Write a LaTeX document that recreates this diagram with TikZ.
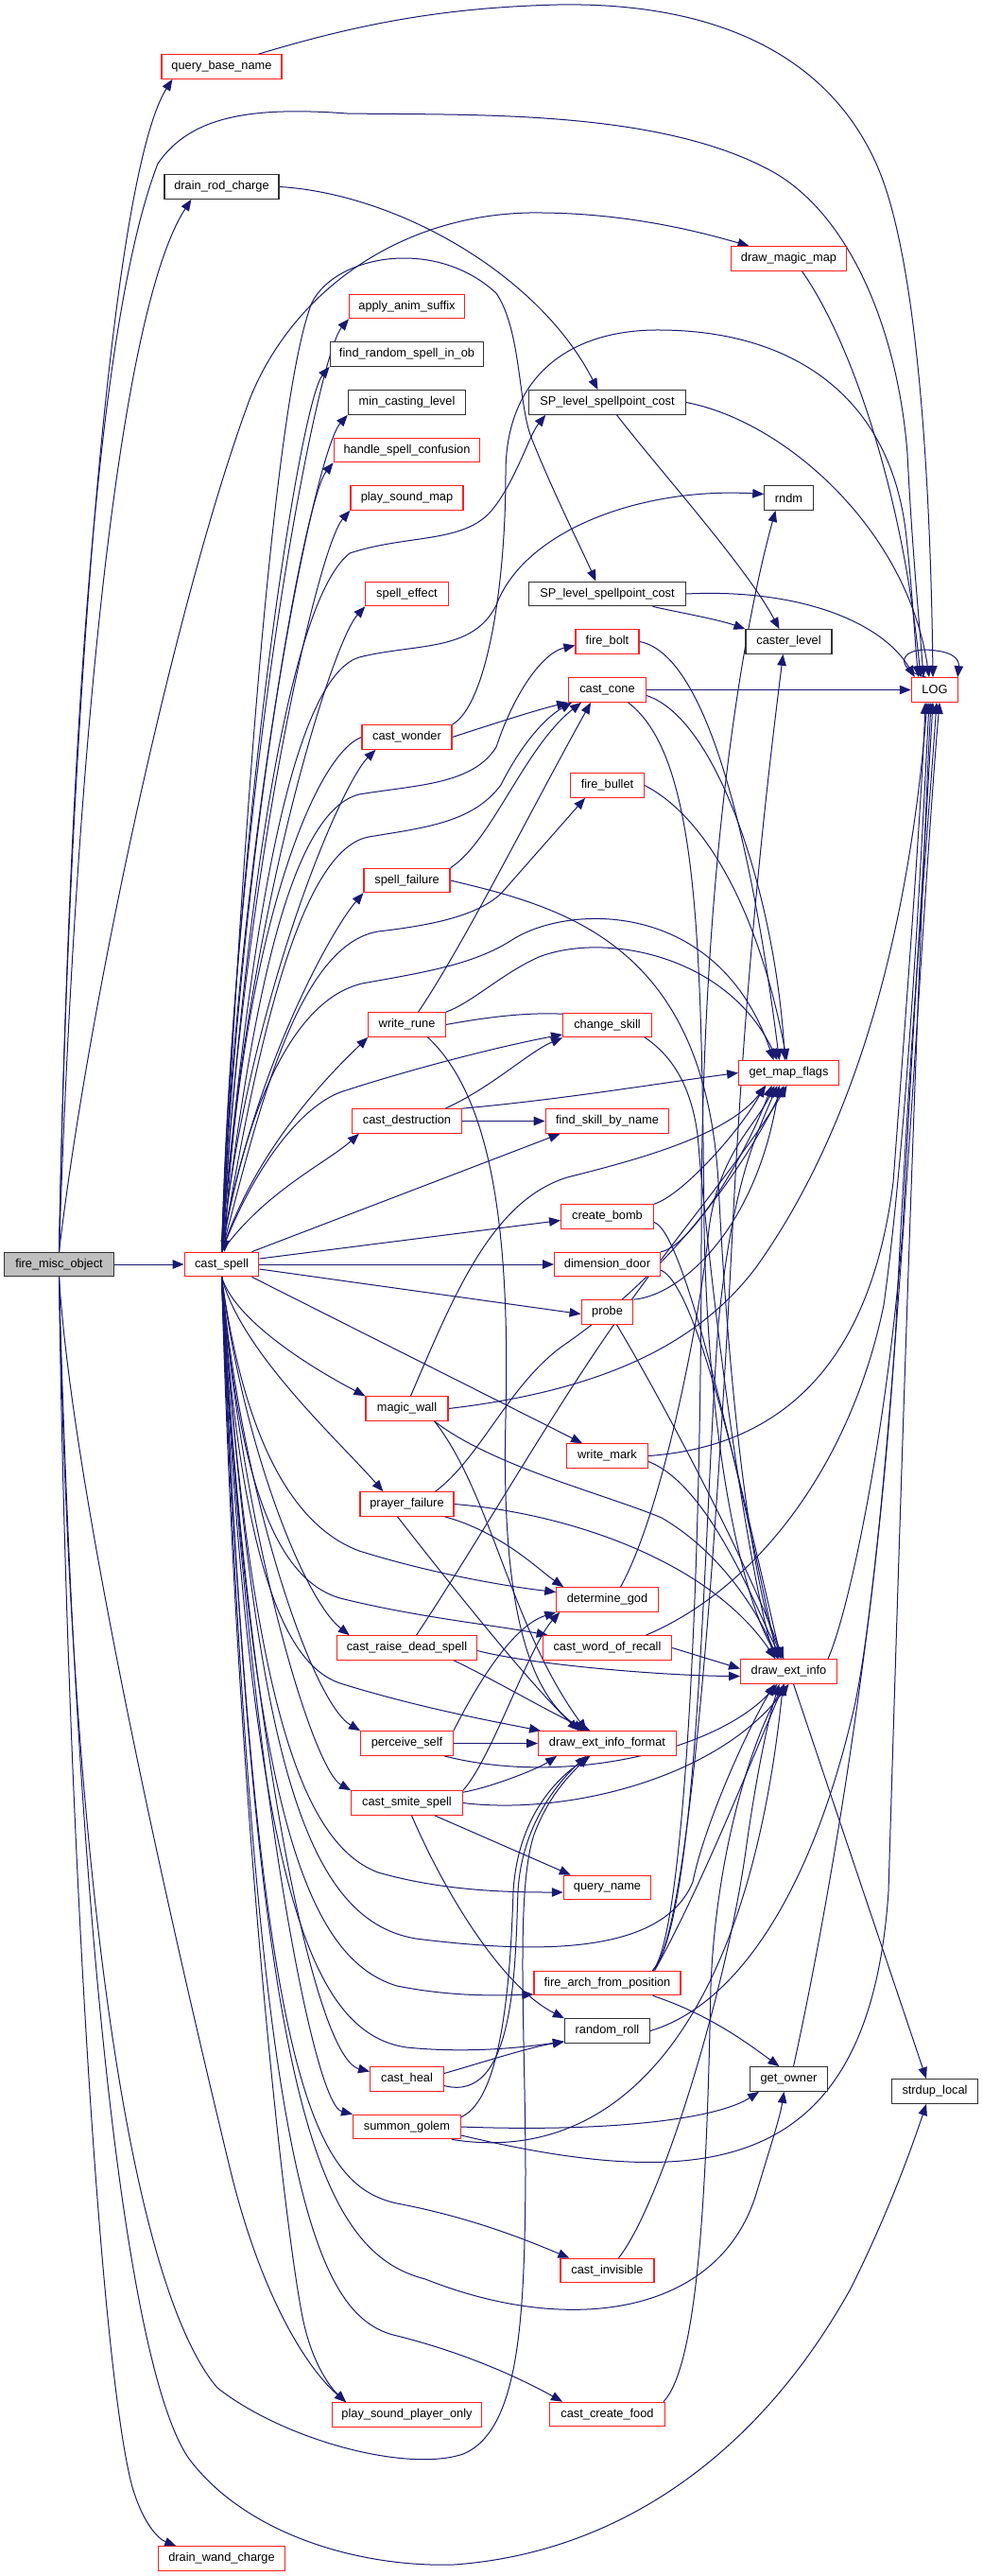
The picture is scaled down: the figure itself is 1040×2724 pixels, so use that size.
\documentclass[tikz,border=0pt]{standalone}
\usepackage{fontspec}
\setmainfont{Liberation Sans}
\usetikzlibrary{arrows.meta}
\definecolor{edgec}{RGB}{25,25,112}
\definecolor{nred}{RGB}{255,30,30}
\definecolor{nblk}{RGB}{50,50,50}
\definecolor{ngray}{RGB}{191,191,191}
\pgfdeclarelayer{bg}
\pgfsetlayers{bg,main}
\begin{document}
\begin{tikzpicture}[x=1pt,y=-1pt,
  box/.style={draw, line width=1.2pt, minimum height=25.5pt, inner sep=0pt, font=\fontsize{12.8}{14}\selectfont, fill=white},
  rn/.style={box, draw=nred},
  bn/.style={box, draw=nblk},
  gn/.style={box, draw=nblk, fill=ngray},
  e/.style={draw=edgec, line width=1pt, -{Triangle[length=12pt,width=9.5pt]}},
]
\useasboundingbox (0,0) rectangle (1040,2724);
% ---------- nodes ----------
\node[gn, minimum width=115.3pt] (F) at (62.5,1337) {fire\_misc\_object};
\node[rn, minimum width=78.7pt] (CS) at (234.5,1337) {cast\_spell};
\node[rn, minimum width=127pt] (qbn) at (234.5,70.5) {query\_base\_name};
\node[bn, minimum width=121pt] (drc) at (234.5,197.5) {drain\_rod\_charge};
\node[rn, minimum width=133.3pt] (dwc) at (234.5,2705.5) {drain\_wand\_charge};
\node[rn, minimum width=121.7pt] (aas) at (430.5,324) {apply\_anim\_suffix};
\node[bn, minimum width=162.7pt] (frs) at (430.5,374.5) {find\_random\_spell\_in\_ob};
\node[bn, minimum width=124.3pt] (mcl) at (430.5,425.5) {min\_casting\_level};
\node[rn, minimum width=154.7pt] (hsc) at (430.5,476) {handle\_spell\_confusion};
\node[rn, minimum width=119pt] (psm) at (430.5,526.5) {play\_sound\_map};
\node[rn, minimum width=87.3pt] (se) at (430.5,628) {spell\_effect};
\node[rn, minimum width=95pt] (cw) at (430.5,779.5) {cast\_wonder};
\node[rn, minimum width=91pt] (sf) at (430.5,931) {spell\_failure};
\node[rn, minimum width=81.3pt] (wr) at (430.5,1083.5) {write\_rune};
\node[rn, minimum width=116pt] (cd) at (430.5,1185.5) {cast\_destruction};
\node[rn, minimum width=87pt] (mw) at (430.5,1489.5) {magic\_wall};
\node[rn, minimum width=99pt] (pf) at (430.5,1590.5) {prayer\_failure};
\node[rn, minimum width=148.3pt] (crds) at (430.5,1742.5) {cast\_raise\_dead\_spell};
\node[rn, minimum width=97.7pt] (ps) at (430.5,1843.5) {perceive\_self};
\node[rn, minimum width=117.7pt] (css) at (430.5,1906.5) {cast\_smite\_spell};
\node[rn, minimum width=77.7pt] (ch) at (430.5,2198.5) {cast\_heal};
\node[rn, minimum width=113.7pt] (sg) at (430.5,2249) {summon\_golem};
\node[rn, minimum width=157.7pt] (psp) at (430.5,2553.5) {play\_sound\_player\_only};
\node[bn, minimum width=165.3pt] (SPa) at (642.5,425.5) {SP\_level\_spellpoint\_cost};
\node[bn, minimum width=165.3pt] (SPb) at (642.5,628) {SP\_level\_spellpoint\_cost};
\node[rn, minimum width=67pt] (fb) at (642.5,678.5) {fire\_bolt};
\node[rn, minimum width=81.7pt] (cc) at (642.5,729.5) {cast\_cone};
\node[rn, minimum width=77.7pt] (fbu) at (642.5,830.5) {fire\_bullet};
\node[rn, minimum width=93.7pt] (csk) at (642.5,1084) {change\_skill};
\node[rn, minimum width=130.7pt] (fsbn) at (642.5,1185.5) {find\_skill\_by\_name};
\node[rn, minimum width=97.7pt] (cb) at (642.5,1286.5) {create\_bomb};
\node[rn, minimum width=111.7pt] (dd) at (642.5,1337) {dimension\_door};
\node[rn, minimum width=54.7pt] (pr) at (642.5,1387.5) {probe};
\node[rn, minimum width=85.7pt] (wm) at (642.5,1539.5) {write\_mark};
\node[rn, minimum width=107.3pt] (dg) at (642.5,1691.5) {determine\_god};
\node[rn, minimum width=136.3pt] (cwr) at (642.5,1742.5) {cast\_word\_of\_recall};
\node[rn, minimum width=145.7pt] (dxf) at (642.5,1843.5) {draw\_ext\_info\_format};
\node[rn, minimum width=92.3pt] (qn) at (642.5,1996) {query\_name};
\node[rn, minimum width=155pt] (fafp) at (642.5,2097) {fire\_arch\_from\_position};
\node[bn, minimum width=90pt] (rr) at (642.5,2147.5) {random\_roll};
\node[rn, minimum width=99pt] (ci) at (642.5,2401) {cast\_invisible};
\node[rn, minimum width=121.7pt] (ccf) at (642.5,2553) {cast\_create\_food};
\node[rn, minimum width=122.7pt] (dmm) at (834.5,273.5) {draw\_magic\_map};
\node[bn, minimum width=51.3pt] (rndm) at (834.5,526.5) {rndm};
\node[bn, minimum width=91pt] (cl) at (834.5,678.5) {caster\_level};
\node[rn, minimum width=105.7pt] (gmf) at (834.5,1134.5) {get\_map\_flags};
\node[rn, minimum width=101.7pt] (dei) at (834.5,1767.5) {draw\_ext\_info};
\node[bn, minimum width=81.7pt] (go) at (834.5,2198.5) {get\_owner};
\node[rn, minimum width=49.3pt] (LOG) at (989,729.5) {LOG};
\node[bn, minimum width=91.3pt] (sdl) at (989,2211.5) {strdup\_local};
% ---------- edges ----------
\begin{pgfonlayer}{bg}
\fill[white] (0,0) rectangle (1040,2724);
% fire_misc_object
\draw[e] (F) -- (CS);
\draw[e] (F.north) .. controls (72,800) and (115,190) .. ([xshift=12pt]qbn.south west);
\draw[e] (F.north) .. controls (80,800) and (125,330) .. ([xshift=29pt]drc.south west);
\draw[e] (F.north) .. controls (75,700) and (110,320) .. (167,173) .. controls (200,125) and (260,112) .. (367,120) .. controls (500,122) and (700,115) .. (820,183) .. controls (900,230) and (950,350) .. (960,480) .. controls (965,580) and (972,650) .. ([xshift=-12pt]LOG.north);
\draw[e] (F.north) .. controls (95,1050) and (190,620) .. (265,420) .. controls (310,310) and (420,228) .. (560,225) .. controls (660,224) and (740,245) .. ([xshift=20pt]dmm.north west);
\draw[e] (F.south) .. controls (75,1550) and (160,1950) .. (245,2300) .. controls (275,2420) and (320,2500) .. ([xshift=15pt]psp.north west);
\draw[e] (F.south) .. controls (70,1900) and (105,2500) .. (140,2630) .. controls (152,2670) and (168,2685) .. ([xshift=19pt]dwc.north west);
\draw[e] (F.south) .. controls (80,2000) and (130,2500) .. (200,2600) .. controls (260,2680) and (380,2715) .. (480,2712) .. controls (650,2700) and (800,2600) .. (900,2420) .. controls (940,2340) and (965,2270) .. ([xshift=-9pt]sdl.south);
\draw[e] (F.south) .. controls (75,2000) and (140,2420) .. (230,2525) .. controls (300,2580) and (430,2615) .. (490,2595) .. controls (550,2570) and (555,2450) .. (556,2300) .. controls (556,2150) and (545,2000) .. (565,1940) .. controls (580,1900) and (600,1880) .. ([xshift=-20pt]dxf.south);
% upper right
\draw[e] ([xshift=-25pt]qbn.north east) .. controls (380,25) and (470,8) .. (590,5) .. controls (760,2) and (880,60) .. (930,180) .. controls (975,290) and (985,550) .. ([xshift=-2pt]LOG.north);
\draw[e] (drc.east) .. controls (420,205) and (570,290) .. ([xshift=-10pt]SPa.north);
\draw[e] ([xshift=14pt]dmm.south) .. controls (900,360) and (955,520) .. ([xshift=-15pt]LOG.north);
\draw[e] ([xshift=10pt]SPa.south) .. controls (700,500) and (790,600) .. ([xshift=-10pt]cl.north);
\draw[e] (SPa.east) .. controls (830,445) and (960,560) .. ([xshift=-6pt]LOG.north);
\draw[e] ([xshift=48pt]SPb.south) .. controls (720,648) and (760,655) .. (cl.north west);
\draw[e] (SPb.east) .. controls (850,622) and (935,660) .. ([xshift=4pt]LOG.north west);
\draw[e] ([xshift=-9pt]LOG.north) .. controls (945,708) and (950,682) .. (990,688) .. controls (1008,690) and (1015,697) .. ([xshift=-1pt]LOG.north east);
% cast_wonder
\draw[e] (cw.west) .. controls (330,800) and (255,1000) .. ([xshift=3pt]CS.north);
\draw[e] (cw.north east) .. controls (515,745) and (535,620) .. (535,500) .. controls (535,400) and (600,350) .. (693,349) .. controls (840,348) and (940,420) .. (958,560) .. controls (965,620) and (968,680) .. ([xshift=8pt]LOG.north west);
\draw[e] (cw.east) .. controls (520,766) and (570,750) .. (cc.south west);
% fire_bolt, cast_cone, fire_bullet
\draw[e] (fb.east) .. controls (740,690) and (790,850) .. ([xshift=-10pt]gmf.north);
\draw[e] (cc.east) -- (LOG.west);
\draw[e] ([yshift=-6pt]cc.east) .. controls (760,760) and (820,950) .. ([xshift=-4pt]gmf.north);
\draw[e] ([xshift=22pt]cc.south) .. controls (740,800) and (742,1000) .. (745,1300) .. controls (750,1550) and (790,1700) .. ([xshift=-10pt]dei.north);
\draw[e] (fbu.east) .. controls (740,860) and (800,950) .. ([xshift=-2pt]gmf.north);
% spell_failure, write_rune
\draw[e] (sf.north east) .. controls (520,890) and (555,790) .. ([xshift=14pt]cc.south west);
\draw[e] (sf.east) .. controls (600,960) and (745,1000) .. (760,1250) .. controls (772,1500) and (800,1700) .. ([xshift=-5pt]dei.north);
\draw[e] ([xshift=12pt]wr.north) .. controls (490,1000) and (560,860) .. ([xshift=24pt]cc.south west);
\draw[e] (wr.north east) .. controls (500,1060) and (530,1030) .. (570,1012) .. controls (640,985) and (770,1010) .. ([xshift=-12pt]gmf.north);
\draw[e] (wr.east) .. controls (600,1060) and (720,1060) .. (738,1200) .. controls (755,1400) and (790,1650) .. ([xshift=-15pt]dei.north);
\draw[e] ([xshift=22pt]wr.south) .. controls (520,1160) and (540,1300) .. (535,1500) .. controls (530,1700) and (560,1790) .. ([xshift=-25pt]dxf.north);
% cast_destruction
\draw[e] ([xshift=-18pt]cd.north east) .. controls (520,1150) and (560,1112) .. (csk.south west);
\draw[e] (cd.north east) .. controls (600,1162) and (700,1145) .. (gmf.west);
\draw[e] (cd.east) -- (fsbn.west);
% create_bomb, dimension_door, probe
\draw[e] (cb.north east) .. controls (720,1265) and (780,1200) .. ([xshift=-25pt]gmf.south);
\draw[e] ([yshift=-6pt]cb.east) .. controls (720,1300) and (770,1500) .. ([xshift=-12pt]dei.north);
\draw[e] (dd.north east) .. controls (730,1320) and (790,1220) .. ([xshift=-18pt]gmf.south);
\draw[e] ([yshift=-6pt]dd.east) .. controls (740,1360) and (790,1600) .. ([xshift=-8pt]dei.north);
\draw[e] (pr.north east) .. controls (720,1370) and (800,1300) .. ([xshift=-10pt]gmf.south);
\draw[e] ([xshift=10pt]pr.south) .. controls (700,1480) and (790,1650) .. ([xshift=-6pt]dei.north);
% magic_wall
\draw[e] ([xshift=4pt]mw.north) .. controls (480,1370) and (520,1270) .. (600,1245) .. controls (680,1225) and (770,1200) .. ([xshift=-24pt]gmf.south);
\draw[e] (mw.east) .. controls (640,1470) and (740,1420) .. (800,1340) .. controls (900,1200) and (960,1000) .. ([xshift=-8pt]LOG.south);
\draw[e] ([xshift=-15pt]mw.south east) .. controls (520,1550) and (640,1580) .. (700,1605) .. controls (760,1640) and (800,1700) .. ([xshift=-12pt]dei.north);
\draw[e] ([xshift=-15pt]mw.south east) .. controls (520,1580) and (540,1720) .. ([xshift=-22pt]dxf.north);
% write_mark
\draw[e] (wm.east) .. controls (820,1530) and (920,1450) .. (945,1250) .. controls (960,1050) and (975,850) .. ([xshift=-10pt]LOG.south);
\draw[e] ([yshift=-6pt]wm.east) .. controls (750,1570) and (800,1700) .. ([xshift=-8pt]dei.north);
% prayer_failure
\draw[e] ([xshift=-20pt]pf.north east) .. controls (510,1540) and (540,1460) .. (600,1420) .. controls (700,1350) and (780,1250) .. ([xshift=-5pt]gmf.south);
\draw[e] (pf.east) .. controls (600,1600) and (750,1650) .. ([xshift=-14pt]dei.north);
\draw[e] ([xshift=-10pt]pf.south east) .. controls (530,1620) and (570,1660) .. ([xshift=8pt]dg.north west);
\draw[e] ([xshift=-10pt]pf.south) .. controls (480,1680) and (560,1780) .. ([xshift=-30pt]dxf.north);
% cast_raise_dead_spell
\draw[e] ([xshift=10pt]crds.north) .. controls (500,1640) and (580,1500) .. (650,1400) .. controls (720,1300) and (790,1220) .. ([xshift=-2pt]gmf.south);
\draw[e] ([yshift=-3pt]crds.east) .. controls (560,1760) and (700,1772) .. ([yshift=-5pt]dei.west);
\draw[e] ([xshift=-25pt]crds.south east) .. controls (530,1780) and (580,1810) .. ([xshift=-18pt]dxf.north);
% determine_god, cast_word_of_recall
\draw[e] ([xshift=14pt]dg.north) .. controls (700,1600) and (740,1400) .. (750,1300) .. controls (760,1220) and (800,1190) .. ([xshift=-15pt]gmf.south);
\draw[e] ([xshift=-28pt]cwr.north east) .. controls (800,1680) and (900,1550) .. (935,1380) .. controls (960,1200) and (975,900) .. ([xshift=-6pt]LOG.south);
\draw[e] (cwr.east) -- ([yshift=3pt]dei.west);
% perceive_self
\draw[e] (ps.east) -- (dxf.west);
\draw[e] (ps.north east) .. controls (500,1790) and (540,1720) .. (dg.south west);
\draw[e] ([xshift=-10pt]ps.south east) .. controls (600,1890) and (760,1850) .. ([xshift=-12pt]dei.south);
% cast_smite_spell
\draw[e] (css.north east) .. controls (520,1860) and (560,1740) .. ([xshift=4pt]dg.south west);
\draw[e] ([yshift=-2pt]css.north east) .. controls (520,1890) and (570,1870) .. ([xshift=20pt]dxf.south west);
\draw[e] (css.east) .. controls (600,1920) and (760,1880) .. (dei.south);
\draw[e] ([xshift=-30pt]css.south east) -- ([xshift=8pt]qn.north west);
\draw[e] ([xshift=5pt]css.south) .. controls (470,2000) and (530,2100) .. (rr.north west);
% cast_heal, summon_golem
\draw[e] ([yshift=6pt]ch.east) .. controls (520,2178) and (560,2165) .. ([yshift=2pt]rr.south west);
\draw[e] ([yshift=-7pt]ch.east) .. controls (545,2225) and (545,2080) .. (548,2000) .. controls (552,1930) and (590,1885) .. ([xshift=-22pt]dxf.south);
\draw[e] ([yshift=-3pt]sg.north east) .. controls (530,2220) and (540,2100) .. (543,2000) .. controls (548,1920) and (590,1880) .. ([xshift=-18pt]dxf.south);
\draw[e] (sg.east) .. controls (650,2255) and (760,2240) .. ([xshift=10pt]go.south west);
\draw[e] ([xshift=-10pt]sg.south east) .. controls (650,2290) and (790,2150) .. ([xshift=-6pt]dei.south);
\draw[e] ([yshift=-9pt]sg.east) .. controls (750,2320) and (920,2300) .. (940,2000) .. controls (955,1500) and (972,1000) .. ([xshift=-4pt]LOG.south);
% fire_arch_from_position
\draw[e] ([xshift=-30pt]fafp.south east) .. controls (750,2130) and (790,2160) .. ([xshift=-10pt]go.north);
\draw[e] ([xshift=-30pt]fafp.north east) .. controls (722,2050) and (742,1700) .. (742,1300) .. controls (742,900) and (790,650) .. ([xshift=-14pt]rndm.south);
\draw[e] ([xshift=-30pt]fafp.north east) .. controls (730,2050) and (760,1600) .. (775,1300) .. controls (790,1000) and (815,800) .. ([xshift=-6pt]cl.south);
\draw[e] ([xshift=-30pt]fafp.north east) .. controls (740,2030) and (745,1600) .. (760,1400) .. controls (775,1250) and (800,1200) .. ([xshift=-12pt]gmf.south);
\draw[e] ([xshift=-28pt]fafp.north east) .. controls (740,2000) and (800,1850) .. ([xshift=-5pt]dei.south);
% draw_ext_info, get_owner, random_roll
\draw[e] ([xshift=-10pt]dei.north east) .. controls (900,1700) and (940,1500) .. (955,1300) .. controls (965,1100) and (978,900) .. ([xshift=-2pt]LOG.south);
\draw[e] ([xshift=5pt]dei.south) -- ([xshift=-9pt]sdl.north);
\draw[e] ([xshift=5pt]go.north) .. controls (880,2000) and (930,1700) .. (948,1400) .. controls (962,1100) and (980,900) .. ([xshift=2pt]LOG.south);
\draw[e] (rr.east) .. controls (780,2120) and (860,2000) .. (905,1800) .. controls (945,1600) and (972,1000) .. ([xshift=5pt]LOG.south);
% cast_invisible, cast_create_food
\draw[e] ([xshift=12pt]ci.north) .. controls (700,2330) and (770,2100) .. (790,1950) .. controls (800,1880) and (812,1820) .. ([xshift=-10pt]dei.south);
\draw[e] ([xshift=-2pt]ccf.north east) .. controls (740,2500) and (748,2300) .. (752,2100) .. controls (758,1950) and (800,1830) .. ([xshift=-4pt]dei.south);
% cast_spell upward fan
\draw[e] (CS.north) .. controls (248,830) and (335,377) .. (aas.south west);
\draw[e] (CS.north) .. controls (250,855) and (318,425) .. (frs.south west);
\draw[e] (CS.north) .. controls (252,880) and (333,478) .. (mcl.south west);
\draw[e] (CS.north) .. controls (254,905) and (322,527) .. (hsc.south west);
\draw[e] (CS.north) .. controls (256,930) and (336,579) .. (psm.south west);
\draw[e] (CS.north) .. controls (258,980) and (350,681) .. (se.south west);
\draw[e] (CS.north) .. controls (262,1060) and (360,830) .. ([xshift=15pt]cw.south west);
\draw[e] (CS.north) .. controls (266,1135) and (350,984) .. (sf.south west);
\draw[e] (CS.north) .. controls (272,1210) and (355,1130) .. (wr.south west);
\draw[e] (CS.north) .. controls (280,1260) and (345,1230) .. ([xshift=8pt]cd.south west);
\draw[e] (CS.north) .. controls (255,900) and (290,420) .. (330,320) .. controls (355,270) and (460,250) .. (525,310) .. controls (552,350) and (548,430) .. (563,465) .. controls (585,520) and (615,580) .. ([xshift=-12pt]SPb.north);
\draw[e] (CS.north) .. controls (255,1000) and (300,640) .. (370,585) .. controls (430,565) and (490,575) .. (520,540) .. controls (545,510) and (560,460) .. ([xshift=18pt]SPa.south west);
\draw[e] (CS.north) .. controls (258,1050) and (300,720) .. (380,695) .. controls (440,680) and (500,690) .. (525,640) .. controls (555,560) and (680,515) .. ([yshift=4pt]rndm.west);
\draw[e] (CS.north) .. controls (262,1100) and (300,860) .. (380,840) .. controls (440,830) and (500,830) .. (525,790) .. controls (545,730) and (575,690) .. ([yshift=-4pt]fb.west);
\draw[e] (CS.north) .. controls (265,1150) and (310,900) .. (390,885) .. controls (450,875) and (500,870) .. (530,830) .. controls (550,790) and (575,760) .. ([xshift=4pt]cc.south west);
\draw[e] (CS.north) .. controls (268,1200) and (310,1000) .. (400,985) .. controls (460,978) and (505,968) .. (530,945) -- ([xshift=16pt]fbu.south west);
\draw[e] (CS.north) .. controls (255,1200) and (300,1060) .. (383,1040) .. controls (450,1028) and (500,1020) .. (540,995) .. controls (600,955) and (760,950) .. ([xshift=-16pt]gmf.north);
\draw[e] (CS.north) .. controls (270,1230) and (320,1170) .. (360,1155) .. controls (420,1135) and (520,1108) .. ([yshift=-10pt]csk.west);
% cast_spell right
\draw[e] ([xshift=-8pt]CS.north east) -- ([xshift=16pt]fsbn.south west);
\draw[e] ([yshift=6pt]CS.east) -- ([yshift=-4pt]cb.west);
\draw[e] (CS.east) -- (dd.west);
\draw[e] ([yshift=-5pt]CS.east) -- ([yshift=-2pt]pr.west);
\draw[e] ([xshift=-8pt]CS.south east) -- ([xshift=17pt]wm.north west);
% cast_spell downward fan
\draw[e] (CS.south) .. controls (250,1400) and (340,1452) .. (mw.north west);
\draw[e] (CS.south) .. controls (255,1430) and (360,1525) .. ([xshift=25pt]pf.north west);
\draw[e] (CS.south) .. controls (255,1520) and (320,1690) .. ([xshift=14pt]crds.north west);
\draw[e] (CS.south) .. controls (255,1580) and (330,1800) .. (ps.north west);
\draw[e] (CS.south) .. controls (256,1620) and (330,1870) .. (css.north west);
\draw[e] (CS.south) .. controls (258,1800) and (330,2175) .. ([yshift=8pt]ch.west);
\draw[e] (CS.south) .. controls (260,1850) and (330,2225) .. (sg.north west);
\draw[e] (CS.south) .. controls (250,1900) and (300,2350) .. (320,2450) .. controls (330,2500) and (350,2525) .. ([xshift=15pt]psp.north west);
\draw[e] (CS.south) .. controls (255,1500) and (300,1610) .. (380,1640) .. controls (460,1665) and (540,1678) .. ([yshift=8pt]dg.west);
\draw[e] (CS.south) .. controls (252,1560) and (290,1670) .. (360,1690) .. controls (440,1710) and (520,1718) .. ([xshift=6pt]cwr.north west);
\draw[e] (CS.south) .. controls (255,1650) and (300,1760) .. (360,1780) .. controls (440,1805) and (520,1820) .. ([xshift=3pt]dxf.north west);
\draw[e] (CS.south) .. controls (265,1800) and (320,1950) .. (400,1980) .. controls (470,2000) and (540,2001) .. ([yshift=-5pt]qn.west);
\draw[e] (CS.south) .. controls (265,1900) and (320,2070) .. (420,2100) .. controls (480,2112) and (530,2110) .. ([yshift=-12pt]fafp.west);
\draw[e] (CS.south) .. controls (265,2000) and (330,2150) .. (430,2165) .. controls (500,2172) and (560,2164) .. ([yshift=2pt]rr.south west);
\draw[e] (CS.south) .. controls (270,2200) and (330,2380) .. (450,2410) .. controls (600,2470) and (760,2450) .. (800,2320) .. controls (815,2270) and (825,2240) .. ([xshift=-5pt]go.south);
\draw[e] (CS.south) .. controls (270,2200) and (330,2310) .. (420,2330) .. controls (500,2345) and (560,2370) .. ([xshift=10pt]ci.north west);
\draw[e] (CS.south) .. controls (270,2300) and (330,2450) .. (420,2470) .. controls (500,2490) and (560,2520) .. ([xshift=14pt]ccf.north west);
\draw[e] (CS.south) .. controls (270,1850) and (320,2030) .. (440,2050) .. controls (560,2065) and (700,2070) .. (733,1990) .. controls (745,1930) and (790,1830) .. ([xshift=-15pt]dei.south);
\end{pgfonlayer}
\end{tikzpicture}
\end{document}
